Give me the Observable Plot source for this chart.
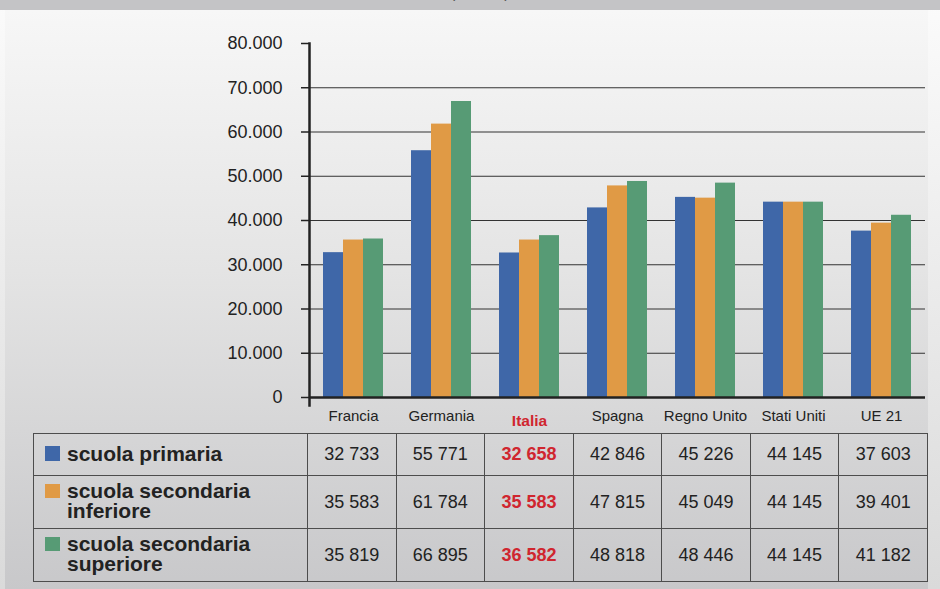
<!DOCTYPE html>
<html><head><meta charset="utf-8">
<script src="https://cdn.jsdelivr.net/npm/d3@7"></script>
<script src="https://cdn.jsdelivr.net/npm/@observablehq/plot@0.6"></script>
<style>
html,body{margin:0;padding:0;}
body{width:940px;height:589px;overflow:hidden;background:linear-gradient(#fbfbfb,#dadada);font-family:"Liberation Sans",Arial,Helvetica,sans-serif;}
#wrap{position:relative;width:940px;height:589px;}
#band{position:absolute;left:0;top:0;width:940px;height:10px;background:#c4c4c6;overflow:hidden;}
#band span{position:absolute;left:450px;top:-16px;font-size:16px;color:#555;white-space:nowrap;}
#panel{position:absolute;left:5px;top:10px;width:923px;height:579px;background:linear-gradient(#f7f7f7 0%,#e4e4e4 45%,#c8c8ca 100%);}
#chart{position:absolute;left:0;top:0;}
table{position:absolute;left:33px;top:433px;border-collapse:collapse;table-layout:fixed;width:894px;}
td{border:1.5px solid #4d4d4d;padding:0;text-align:center;vertical-align:middle;font-size:18px;color:#222;}
td.hl{color:#d0262f;font-weight:bold;}
td.lab{text-align:left;}
.lt{position:relative;display:inline-block;margin-left:33px;font-size:21px;font-weight:bold;line-height:20px;color:#222;}
.sw{position:absolute;left:-22px;top:2.5px;width:15px;height:14.5px;}
</style></head>
<body><div id="wrap">
<div id="band"><span>(in euro)</span></div>
<div id="panel"></div>
<div id="chart"></div>
<table id="tab"></table>
</div>
<script>
const countries = ["Francia","Germania","Italia","Spagna","Regno Unito","Stati Uniti","UE 21"];
const series = ["scuola primaria","scuola secondaria inferiore","scuola secondaria superiore"];
const seriesLines = [["scuola primaria"],["scuola secondaria","inferiore"],["scuola secondaria","superiore"]];
const colors = ["#3f67a8","#e09a45","#579b75"];
const primaria = [32733,55771,32658,42846,45226,44145,37603];
const secInferiore = [35583,61784,35583,47815,45049,44145,39401];
const secSuperiore = [35819,66895,36582,48818,48446,44145,41182];
const yTicks = [0,10000,20000,30000,40000,50000,60000,70000,80000];
const gridTicks = [10000,20000,30000,40000,50000,60000,70000];
const highlight = "Italia";

const values = [primaria, secInferiore, secSuperiore];
const rows = [];
series.forEach((s,i)=>countries.forEach((c,j)=>rows.push({country:c, series:s, value:values[i][j]})));
const fmtY = d => d === 0 ? "0" : d3.format(",")(d).replace(/,/g,".");
const fmtT = d => d3.format(",")(d).replace(/,/g," ");

const plot = Plot.plot({
  width: 940, height: 430,
  marginTop: 43, marginBottom: 33, marginLeft: 307, marginRight: 13,
  style: {background: "transparent", fontFamily: "'Liberation Sans', Arial, sans-serif", color: "#222", overflow: "visible"},
  fx: {domain: countries, paddingInner: 0, paddingOuter: 0, label: null},
  x: {domain: series, paddingInner: 0, paddingOuter: 0.678, axis: null},
  y: {domain: [0, 80000], label: null},
  color: {domain: series, range: colors},
  marks: [
    Plot.gridY(gridTicks, {stroke: "#333", strokeOpacity: 1, strokeWidth: 1}),
    Plot.barY(rows, {fx: "country", x: "series", y: "value", fill: "series"}),
    Plot.ruleY([0], {stroke: "#222", strokeWidth: 2.5}),
    Plot.axisY({ticks: yTicks, tickSize: 8, tickPadding: 19, tickFormat: fmtY, fontSize: 18, stroke: "#222", strokeWidth: 1.5, fill: "#222", label: null}),
    Plot.axisFx({anchor: "bottom", ticks: countries.filter(c => c !== highlight), tickSize: 0, tickPadding: 13, fontSize: 15, fill: "#222", label: null}),
    Plot.axisFx({anchor: "bottom", ticks: [highlight], tickSize: 0, tickPadding: 13, dy: 4, fontSize: 15.5, fontWeight: "bold", fill: "#d0262f", label: null}),
    Plot.frame({anchor: "left", facetAnchor: "left", stroke: "#222", strokeWidth: 2.5, insetBottom: -8})
  ]
});
document.getElementById("chart").appendChild(plot);

const tab = document.getElementById("tab");
let html = '<colgroup><col style="width:274px">' + countries.map(()=>'<col style="width:88.57px">').join("") + '</colgroup>';
const rh = [42, 53, 53];
series.forEach((s,i)=>{
  html += `<tr style="height:${rh[i]}px"><td class="lab"><span class="lt"><span class="sw" style="background:${colors[i]}"></span>${seriesLines[i].join("<br>")}</span></td>`;
  countries.forEach((c,j)=>{
    html += `<td class="${c===highlight?'hl':''}">${fmtT(values[i][j])}</td>`;
  });
  html += '</tr>';
});
tab.innerHTML = html;
</script>
</body></html>
